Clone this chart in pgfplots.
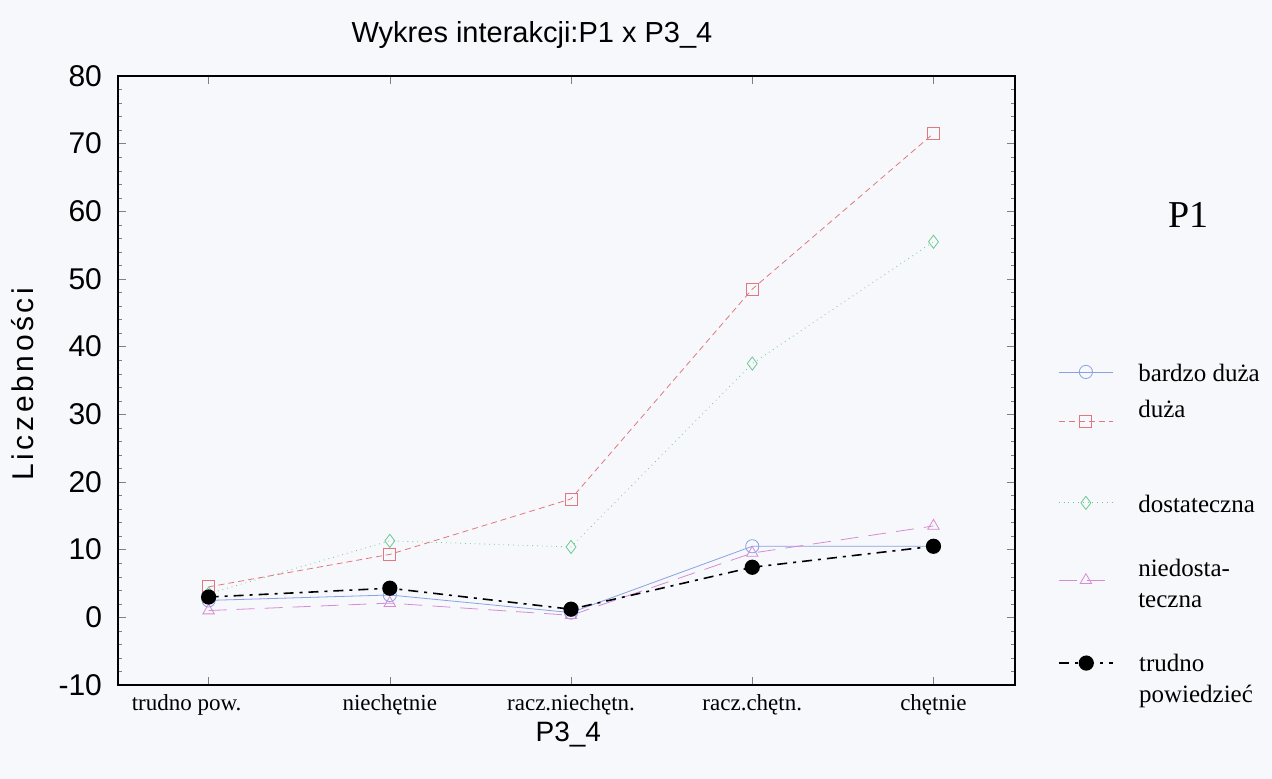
\documentclass[border=0pt]{standalone}
\usepackage{pgfplots}
\pgfplotsset{compat=1.18}
\usepackage{fontspec}
\setmainfont{Liberation Sans}
\newfontfamily\tms{Liberation Serif}
\newfontfamily\lsp{Liberation Sans}[LetterSpace=12]

\definecolor{bdz}{RGB}{140,160,228}
\definecolor{dz}{RGB}{226,120,125}
\definecolor{dost}{RGB}{110,200,145}
\definecolor{nied}{RGB}{215,140,210}
\definecolor{bg}{RGB}{246,248,252}

\pgfplotsset{
  sbdz/.style={color=bdz, mark=o, mark size=3.3pt, mark options={solid}},
  sdz/.style={color=dz, densely dashed, mark=square, mark size=3pt, mark options={solid}},
  sdost/.style={color=dost, dotted, mark=diamond, mark size=3.3pt, mark options={solid}},
  snied/.style={color=nied, dash pattern=on 9pt off 5pt, mark=triangle, mark size=3.3pt, mark options={solid}},
  strud/.style={color=black, thick, dash pattern=on 5pt off 3pt on 1.5pt off 3pt, mark=*, mark size=3.4pt, mark options={solid}},
  % one hidden axis per legend row, same geometry as the chart
  legrow/.style={
    at={(59pt,47pt)}, anchor=south west,
    scale only axis, width=448.5pt, height=304.5pt,
    hide axis, xmin=0, xmax=1, ymin=0, ymax=1,
    legend style={at={(rel axis cs:1.048,#1)}, anchor=west, draw=none, fill=none,
      inner sep=0pt, row sep=0pt, column sep=12.5pt,
      font=\tms\fontsize{12.5}{15.5}\selectfont,
      nodes={inner sep=0pt}, cells={anchor=west}},
    legend image code/.code={\draw[mark repeat=2,mark phase=2]
      plot coordinates {(0pt,0pt) (13.5pt,0pt) (27pt,0pt)};},
  },
}
% two-line legend text, baseline on the last line
\newcommand{\twol}[2]{\vbox{\baselineskip=15.5pt\hbox{#1}\hbox{#2}}}

\begin{document}
\begin{tikzpicture}
\fill[bg] (0,0) rectangle (636pt,389.5pt);
\useasboundingbox (0,0) rectangle (636pt,389.5pt);
\begin{axis}[
  at={(59pt,47pt)}, anchor=south west,
  scale only axis, width=448.5pt, height=304.5pt,
  xmin=0.5, xmax=5.45, ymin=-10, ymax=80,
  xtick={1,2,3,4,5},
  xticklabels={trudno pow.\hspace*{22pt}, niechętnie, racz.niechętn., racz.chętn., chętnie},
  x tick label style={font=\tms\fontsize{11.5}{14}\selectfont, yshift=-1pt},
  ytick={-10,0,10,20,30,40,50,60,70,80},
  minor y tick num=4,
  y tick label style={font=\fontsize{15}{17}\selectfont, xshift=-4.5pt},
  /pgf/number format/assume math mode=true,
  tick align=inside,
  major tick length=4pt, minor tick length=2pt,
  axis line style={line width=0.8pt},
  clip=false,
]
\addplot[sbdz] coordinates {(1,2.5) (2,3.3) (3,0.7) (4,10.5) (5,10.5)};
\addplot[sdz] coordinates {(1,4.5) (2,9.3) (3,17.5) (4,48.5) (5,71.5)};
\addplot[sdost] coordinates {(1,3.5) (2,11.3) (3,10.4) (4,37.5) (5,55.5)};
\addplot[snied] coordinates {(1,1.0) (2,2.1) (3,0.3) (4,9.5) (5,13.5)};
\addplot[strud] coordinates {(1,3.0) (2,4.3) (3,1.2) (4,7.4) (5,10.5)};

\node[font=\fontsize{14.5}{17}\selectfont] at ([yshift=20.5pt]rel axis cs:0.4615,1) {Wykres interakcji:P1 x P3\_4};
\node[rotate=90, font=\lsp\fontsize{15}{17}\selectfont] at ([xshift=-47.5pt]rel axis cs:0,0.494) {Liczebności};
\node[font=\fontsize{14}{16}\selectfont] at ([yshift=-25pt]rel axis cs:0.502,0) {P3\_4};
\node[font=\tms\fontsize{19}{21}\selectfont] at (rel axis cs:1.193,0.772) {P1};
\end{axis}

\begin{axis}[legrow=0.514]
\addlegendimage{sbdz}
\addlegendentry{\raisebox{4.5pt}[20pt][20pt]{bardzo duża}}
\end{axis}
\begin{axis}[legrow=0.432]
\addlegendimage{sdz}
\addlegendentry{\raisebox{11.5pt}[20pt][20pt]{duża}}
\end{axis}
\begin{axis}[legrow=0.299]
\addlegendimage{sdost}
\addlegendentry{\raisebox{4.5pt}[20pt][20pt]{dostateczna}}
\end{axis}
\begin{axis}[legrow=0.172]
\addlegendimage{snied}
\addlegendentry{\raisebox{-4.5pt}[20pt][20pt]{\twol{niedosta-}{teczna}}}
\end{axis}
\begin{axis}[legrow=0.036]
\addlegendimage{strud}
\addlegendentry{\raisebox{-10.5pt}[20pt][20pt]{\twol{trudno}{powiedzieć}}}
\end{axis}
\end{tikzpicture}
\end{document}
